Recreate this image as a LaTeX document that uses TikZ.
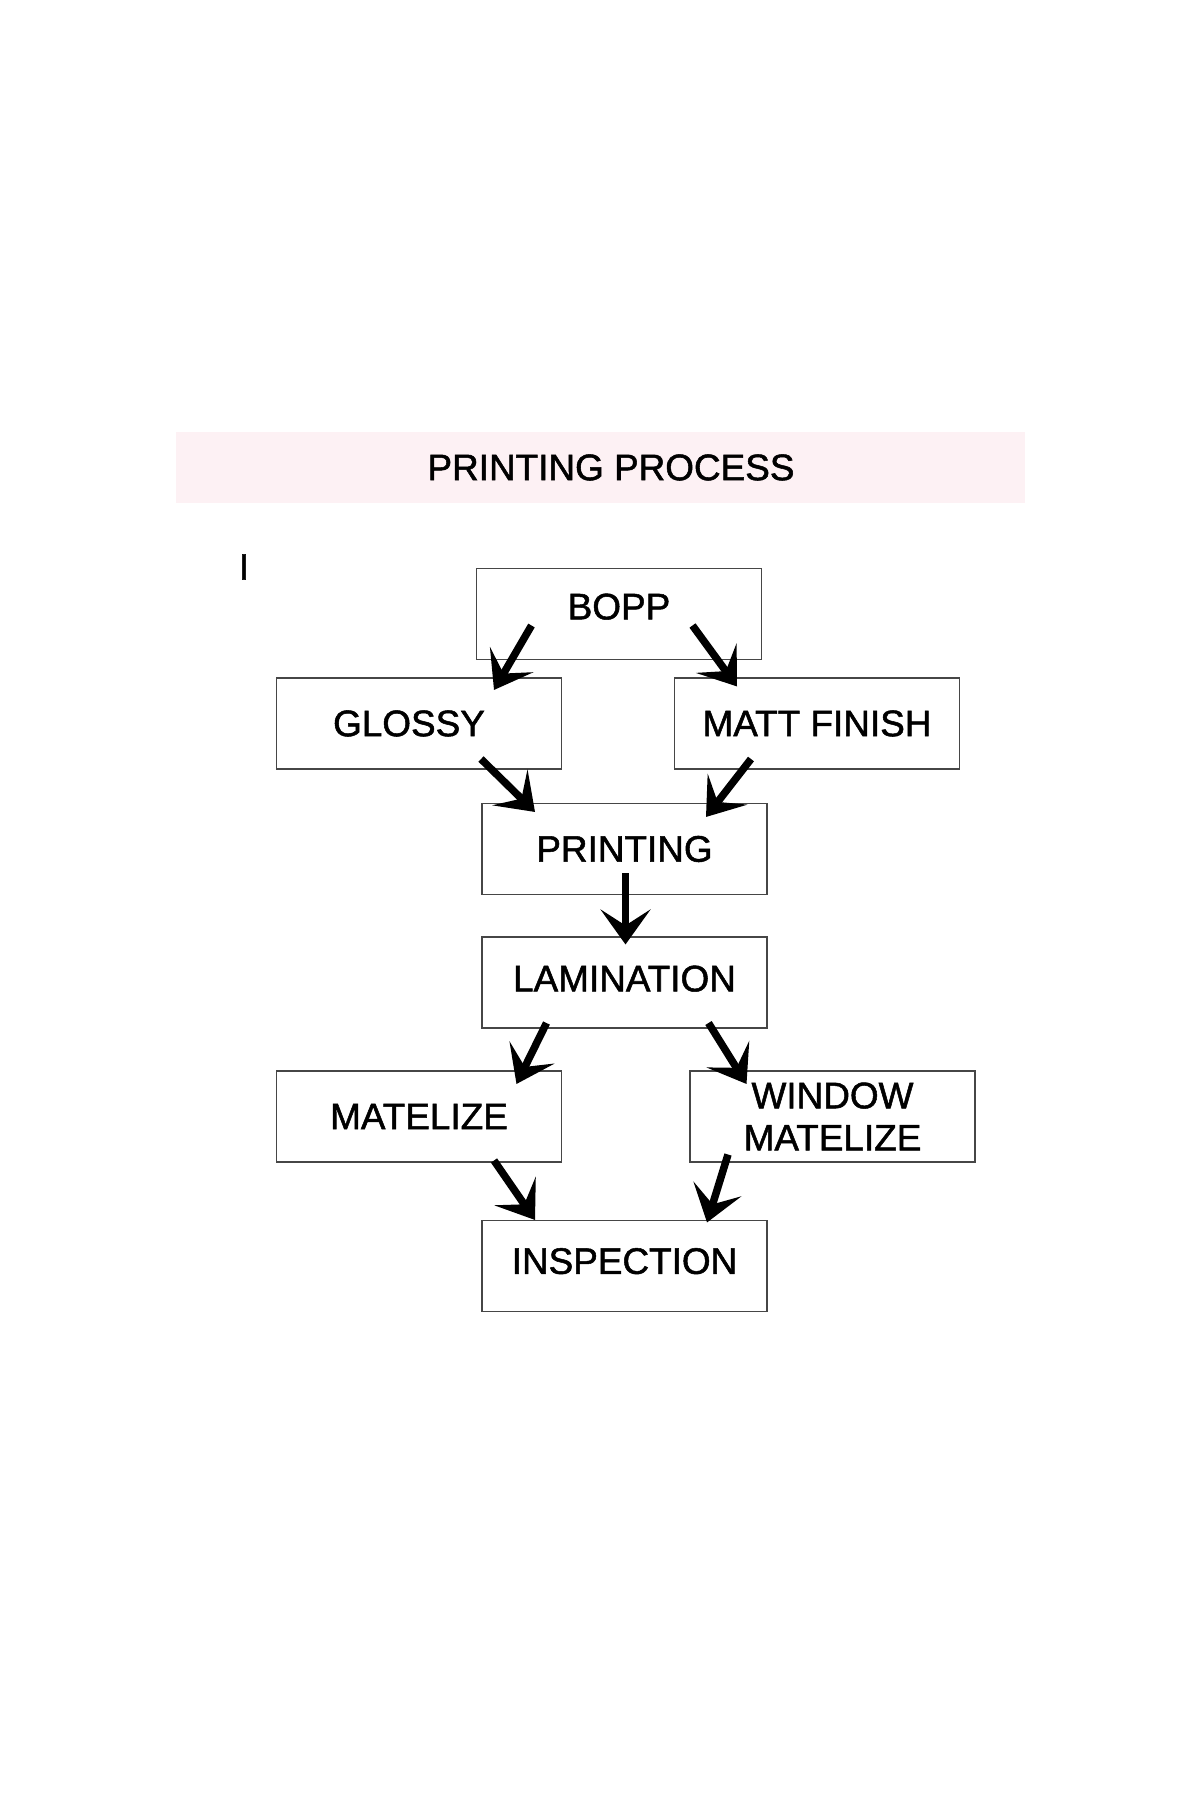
\documentclass[tikz,border=0pt]{standalone}
\usepackage{fontspec}
\setmainfont{Liberation Sans}[FakeBold=1.4]
\usepackage{tikz}
\usetikzlibrary{arrows.meta, shapes, positioning, calc}
\definecolor{titlepink}{RGB}{253,241,244}
\definecolor{boxline}{RGB}{70,70,70}

\begin{document}
\begin{tikzpicture}[-{Stealth[length=.7cm,width=1cm,inset=.32cm]},
      line width=.15cm,
      font=\fontsize{21}{24}\selectfont]
   \useasboundingbox (0,0) rectangle (24,36);

   \tikzstyle{box} = [draw=boxline, line width=.6pt, rectangle, fill=white,
      minimum width=5.7cm, minimum height=1.82cm, align=center]
   \tikzstyle{banner} = [rectangle, fill=titlepink, minimum width=16.98cm, minimum height=1.42cm]

   \node [banner] at (12.01,26.65) (band) {};
   \node at (12.22,26.65) (title) {PRINTING PROCESS};
   \node at (4.88,24.66) (mark) {I};

   \node [box, text depth=.3cm] at (12.38,23.72) (bopp) {BOPP};
   \node [box] at (8.38,21.53) (glossy) {GLOSSY\hspace*{.4cm}};
   \node [box] at (16.34,21.53) (matt) {MATT FINISH};
   \node [box] at (12.49,19.02) (printing) {PRINTING};
   \node [box, text depth=.16cm] at (12.49,16.35) (lamination) {LAMINATION};
   \node [box] at (8.38,13.67) (matelize) {MATELIZE};
   \node [box] at (16.65,13.67) (window) {WINDOW\\MATELIZE};
   \node [box, text depth=.2cm] at (12.49,10.68) (inspection) {INSPECTION};

   \draw ([xshift=-1.75cm,yshift=.69cm]bopp.south) -- ([xshift=1.5cm,yshift=-.25cm]glossy.north);
   \draw ([xshift=1.47cm,yshift=.69cm]bopp.south) -- ([xshift=-1.6cm,yshift=-.18cm]matt.north);
   \draw ([xshift=1.24cm,yshift=.21cm]glossy.south) -- ([xshift=-1.79cm,yshift=-.18cm]printing.north);
   \draw ([xshift=-1.32cm,yshift=.21cm]matt.south) -- ([xshift=1.63cm,yshift=-.28cm]printing.north);
   \draw ([xshift=.02cm,yshift=.44cm]printing.south) -- ([xshift=.02cm,yshift=-.16cm]lamination.north);
   \draw ([xshift=-1.56cm,yshift=.11cm]lamination.south) -- ([xshift=1.95cm,yshift=-.27cm]matelize.north);
   \draw ([xshift=1.68cm,yshift=.11cm]lamination.south) -- ([xshift=-1.72cm,yshift=-.27cm]window.north);
   \draw ([xshift=1.5cm,yshift=.04cm]matelize.south) -- ([xshift=-1.79cm]inspection.north);
   \draw ([xshift=-2.09cm,yshift=.16cm]window.south) -- ([xshift=1.65cm,yshift=-.05cm]inspection.north);
\end{tikzpicture}
\end{document}
